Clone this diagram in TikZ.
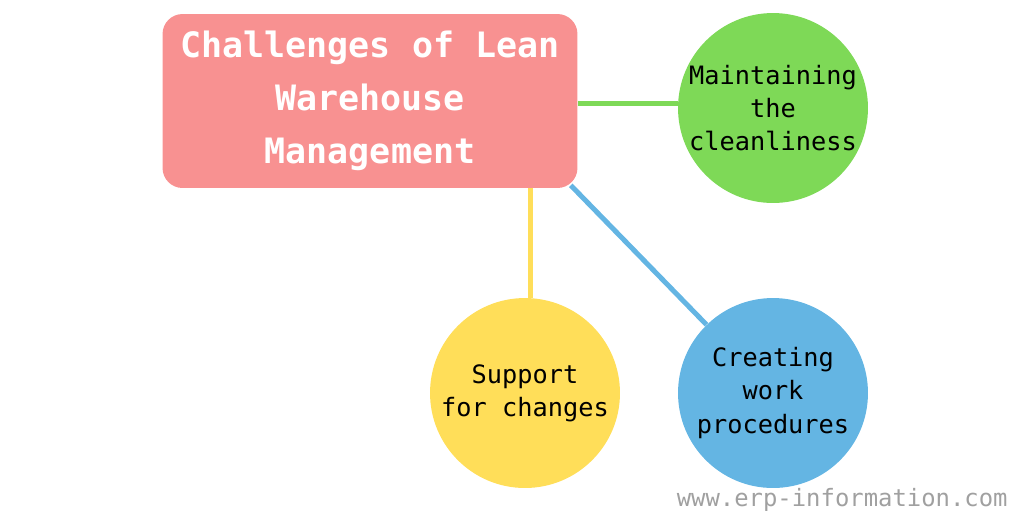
\documentclass[tikz,border=0pt]{standalone}
\usepackage{fontspec}
\setmonofont{DejaVu Sans Mono}
\usetikzlibrary{positioning, backgrounds}
\definecolor{titlepink}{RGB}{248,145,145}
\definecolor{cleangreen}{RGB}{126,217,87}
\definecolor{changeyellow}{RGB}{255,222,89}
\definecolor{workblue}{RGB}{100,181,227}
\definecolor{markgray}{RGB}{160,160,160}
\tikzset{
  titlebox/.style={rectangle, rounded corners=0.4cm, fill=titlepink, text=white,
    minimum width=8.3cm, minimum height=3.48cm, align=center,
    font=\ttfamily\bfseries\fontsize{19.9}{30}\selectfont},
  bubble/.style={circle, fill=#1, minimum size=3.8cm, inner sep=0pt, align=center,
    font=\ttfamily\fontsize{14.4}{18.8}\selectfont},
  link/.style={line width=0.1cm, draw=#1}
}

\begin{document}
\begin{tikzpicture}[x=0.02cm, y=-0.02cm]
  \useasboundingbox (0,0) rectangle (1024,512);
  %
  \node[titlebox] (title) at (370,101) {Challenges of Lean\\Warehouse\\Management};
  \node[bubble=cleangreen] (clean) at (773,108) {Maintaining\\the\\cleanliness};
  \node[bubble=changeyellow] (change) at (525,393) {Support\\for changes};
  \node[bubble=workblue] (work) at (773,393) {Creating\\work\\procedures};
  %
  \begin{scope}[on background layer]
    \draw[link=cleangreen] ([yshift=-0.04cm]title.east) -- ([yshift=-0.04cm]title.east -| clean.west);
    \draw[link=changeyellow] ([xshift=0.1cm]change.north) -- ([xshift=0.1cm]change.north |- title.south);
    \draw[link=workblue] ([xshift=-0.14cm,yshift=0.06cm]title.south east) -- (work);
  \end{scope}
  %
  \node[anchor=east, inner sep=0pt, text=markgray, font=\ttfamily\fontsize{13.6}{16}\selectfont] (site) at (1008,500) {www.erp-information.com};
\end{tikzpicture}
\end{document}
